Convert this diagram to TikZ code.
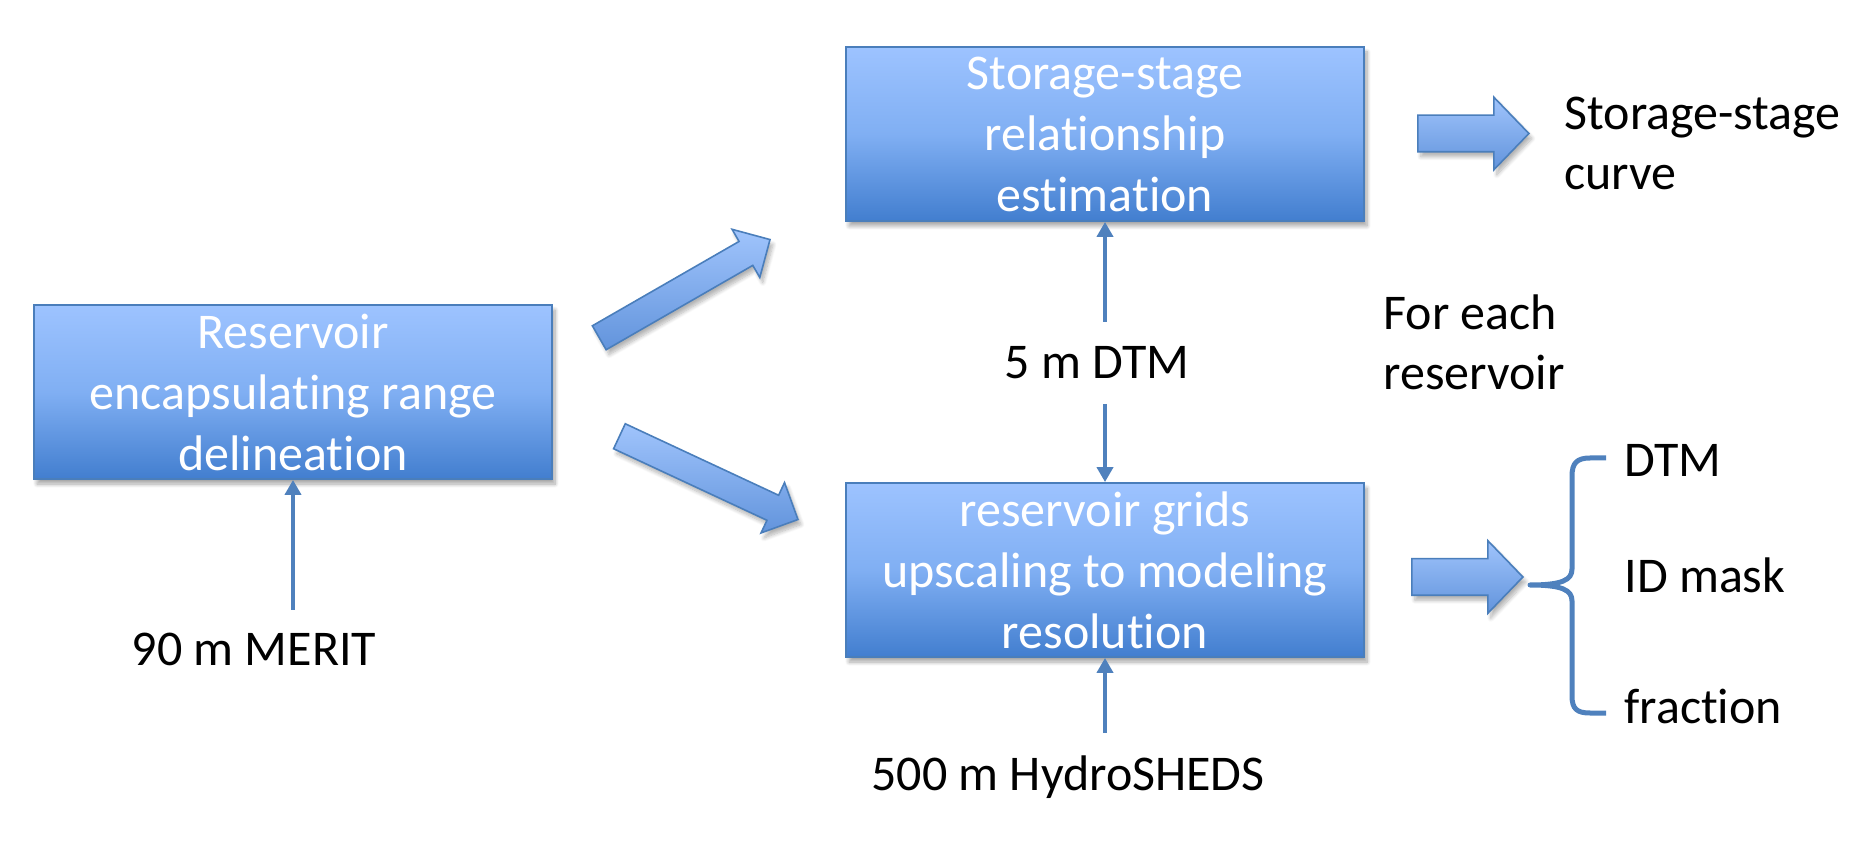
\documentclass[tikz,border=0pt]{standalone}
\usepackage{fontspec}
\setmainfont{Carlito}[Ligatures=NoCommon]
\usetikzlibrary{shapes.arrows,arrows.meta,shadows.blur}
\definecolor{edgec}{RGB}{74,126,187}
\definecolor{topc}{RGB}{157,195,255}
\definecolor{midc}{RGB}{128,175,243}
\definecolor{botc}{RGB}{66,126,207}
\definecolor{arrtop}{RGB}{160,196,252}
\definecolor{arrbot}{RGB}{98,148,220}
\definecolor{linec}{RGB}{79,129,189}
\tikzset{
  procbox/.style={rectangle, draw=edgec, line width=0.9pt,
    top color=topc, bottom color=botc, middle color=midc,
    minimum width=259pt, minimum height=87pt, inner sep=0pt,
    align=center, text=white, font=\fontsize{25}{30.5}\selectfont,
    blur shadow={shadow xshift=1.5pt, shadow yshift=-2.5pt, shadow blur steps=8, shadow opacity=35}},
  blockarr/.style={single arrow, draw=edgec, line width=0.8pt,
    top color=arrtop, bottom color=arrbot, inner xsep=0pt,
    blur shadow={shadow xshift=1.5pt, shadow yshift=-2.5pt, shadow blur steps=8, shadow opacity=30}},
  diagarr/.style={blockarr, inner ysep=6.5pt, minimum height=98.5pt,
    single arrow head extend=7pt, single arrow tip angle=90},
  horarr/.style={blockarr, inner ysep=8.75pt, minimum height=55.5pt,
    single arrow head extend=9pt, single arrow tip angle=92},
  thinarr/.style={draw=linec, line width=2pt, -{Triangle[width=8pt,length=7.5pt]}},
  txt/.style={font=\fontsize{25}{30}\selectfont, inner sep=0pt, text=black},
  bracec/.style={draw=linec, line width=2.5pt, line join=round, line cap=butt}
}
\begin{document}
\begin{tikzpicture}[x=0.5pt, y=-0.5pt]
\useasboundingbox (0,0) rectangle (1863,849);

% process boxes
\node[procbox] (b1) at (293,392) {Reservoir\\encapsulating range\\delineation};
\node[procbox] (b2) at (1105,134) {Storage-stage\\relationship\\estimation};
\node[procbox] (b3) at (1105,570) {reservoir grids\\upscaling to modeling\\resolution};

% block arrows
\node[diagarr, rotate=29.9, anchor=tip] (a1) at (771,239) {};
\node[diagarr, rotate=-25, anchor=tip] (a2) at (799,520) {};
\node[horarr, anchor=tip] (a3) at (1530,133.5) {};
\node[horarr, anchor=tip] (a4) at (1524,577) {};

% texts
\node[txt, anchor=base west, align=left] (sc) at (1564,190) {Storage-stage\\curve};
\node[txt, anchor=base west, align=left] (fe) at (1383,390) {For each\\reservoir};
\node[txt, anchor=base] (dtm5) at (1097,379) {5 m DTM};
\node[txt, anchor=base] (hs) at (1068,790) {500 m HydroSHEDS};
\node[txt, anchor=base] (merit) at (254,665) {90 m MERIT};
\node[txt, anchor=base west] (o1) at (1624,477) {DTM};
\node[txt, anchor=base west] (o2) at (1624,593) {ID mask};
\node[txt, anchor=base west] (o3) at (1624,723) {fraction};

% thin arrows
\coordinate (m0) at (293,610);
\coordinate (d0) at (1105,322);
\coordinate (d1) at (1105,404);
\coordinate (h0) at (1105,733);
\draw[thinarr] (m0) -- (b1.south);
\draw[thinarr] (d0) -- (b2.south);
\draw[thinarr] (d1) -- (b3.north);
\draw[thinarr] (h0) -- (b3.south);

% brace
\coordinate (bt) at (1530,585);
\draw[bracec] (1606,458) -- (1590,458) .. controls (1577,458) and (1572,463) .. (1572,476)
  -- (1572,569) .. controls (1572,580) and (1562,585) .. (bt)
  .. controls (1562,585) and (1572,590) .. (1572,601)
  -- (1572,696) .. controls (1572,709) and (1577,713) .. (1590,713) -- (1606,713);
\end{tikzpicture}
\end{document}
